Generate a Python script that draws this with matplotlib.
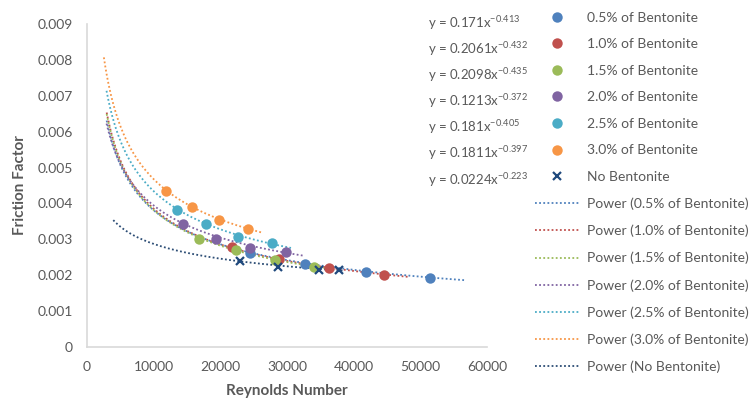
import numpy as np
import matplotlib.pyplot as plt

plt.rcParams['font.family'] = ['Lato', 'DejaVu Sans']
plt.rcParams['mathtext.fontset'] = 'custom'
plt.rcParams['mathtext.rm'] = 'Lato'
plt.rcParams['mathtext.it'] = 'Lato'

# Measured points (Reynolds number, friction factor)
series_names = ['0.5% of Bentonite', '1.0% of Bentonite', '1.5% of Bentonite',
                '2.0% of Bentonite', '2.5% of Bentonite', '3.0% of Bentonite',
                'No Bentonite']

re_05 = [24480, 32700, 41880, 51460]
f_05 = [0.00261, 0.00231, 0.00209, 0.00193]
re_10 = [21680, 28840, 36370, 44480]
f_10 = [0.00278, 0.00244, 0.00220, 0.00201]
re_15 = [16870, 22380, 28200, 34100]
f_15 = [0.00302, 0.00269, 0.00243, 0.00224]
re_20 = [14460, 19370, 24480, 29900]
f_20 = [0.00344, 0.00302, 0.00276, 0.00265]
re_25 = [13560, 17900, 22600, 27700]
f_25 = [0.00381, 0.00342, 0.00307, 0.00289]
re_30 = [11800, 15700, 19800, 24100]
f_30 = [0.00434, 0.00390, 0.00354, 0.00330]
re_00 = [22880, 28700, 34860, 37870]
f_00 = [0.00239, 0.00224, 0.00215, 0.00215]

# Power trendline coefficients y = a * x^b, as shown on the chart
fit_a = [0.171, 0.2061, 0.2098, 0.1213, 0.181, 0.1811, 0.0224]
fit_b = [-0.413, -0.432, -0.435, -0.372, -0.405, -0.397, -0.223]
fit_a_txt = ['0.171', '0.2061', '0.2098', '0.1213', '0.181', '0.1811', '0.0224']
fit_b_txt = ['-0.413', '-0.432', '-0.435', '-0.372', '-0.405', '-0.397', '-0.223']
fit_start = [2950, 2950, 2950, 2930, 2930, 2530, 3940]
fit_end = [56600, 48300, 36500, 32400, 30600, 26100, 38500]

colors = ['#4F81BD', '#C0504D', '#9BBB59', '#8064A2', '#4BACC6', '#F79646', '#1F497D']
line_colors = ['#4F81BD', '#C0504D', '#9BBB59', '#8064A2', '#4BACC6', '#F79646', '#2C4D75']

xs = [re_05, re_10, re_15, re_20, re_25, re_30, re_00]
ys = [f_05, f_10, f_15, f_20, f_25, f_30, f_00]

fig = plt.figure(figsize=(7.49, 4.08), dpi=100)
ax = fig.add_axes([87/749, 61/408, 400/749, 323/408])

marker_handles = []
for i in range(7):
    if i == 6:
        h, = ax.plot(xs[i], ys[i], 'x', color=colors[i], ms=6, mew=1.6,
                     linestyle='none', label=series_names[i], zorder=4)
    else:
        h, = ax.plot(xs[i], ys[i], 'o', color=colors[i], ms=7.5, mec='none',
                     linestyle='none', label=series_names[i], zorder=4)
    marker_handles.append(h)

line_handles = []
for i in range(7):
    xx = np.linspace(fit_start[i], fit_end[i], 200)
    yy = fit_a[i] * xx ** fit_b[i]
    h, = ax.plot(xx, yy, linestyle=(0, (1, 1.3)), color=line_colors[i], lw=1.3,
                 label='Power (' + series_names[i] + ')', zorder=3)
    line_handles.append(h)

ax.set_xlim(0, 60000)
ax.set_ylim(0, 0.009)
ax.set_xticks(np.arange(0, 60001, 10000))
ax.set_yticks(np.arange(0, 0.0091, 0.001))
ax.set_yticklabels(['0'] + ['%.3f' % v for v in np.arange(0.001, 0.0091, 0.001)])
ax.tick_params(length=0, labelsize=10, labelcolor='#595959', pad=10)

for s in ['top', 'right']:
    ax.spines[s].set_visible(False)
for s in ['left', 'bottom']:
    ax.spines[s].set_color('#D9D9D9')
    ax.spines[s].set_linewidth(1.2)

ax.set_xlabel('Reynolds Number', fontsize=11, fontweight='bold', color='#595959', labelpad=8)
ax.set_ylabel('Friction Factor', fontsize=11, fontweight='bold', color='#595959', labelpad=8)

# Trendline equations
for i in range(7):
    ypos = 1 - (23 + i * 26.1) / 408
    fig.text(428/749, ypos, r'y = %sx$^{%s}$' % (fit_a_txt[i], fit_b_txt[i]),
             fontsize=9.5, color='#595959', va='center', ha='left')

# legend runs off the right edge, as in the original chart
leg = fig.legend(marker_handles + line_handles,
                 [h.get_label() for h in marker_handles + line_handles],
                 loc='upper left', bbox_to_anchor=(529/749, 1 - 6/408),
                 frameon=False, fontsize=10, labelcolor='#595959',
                 handlelength=3.25, handletextpad=0.55, labelspacing=1.05,
                 borderaxespad=0)

fig.savefig('out.png', dpi=100)
